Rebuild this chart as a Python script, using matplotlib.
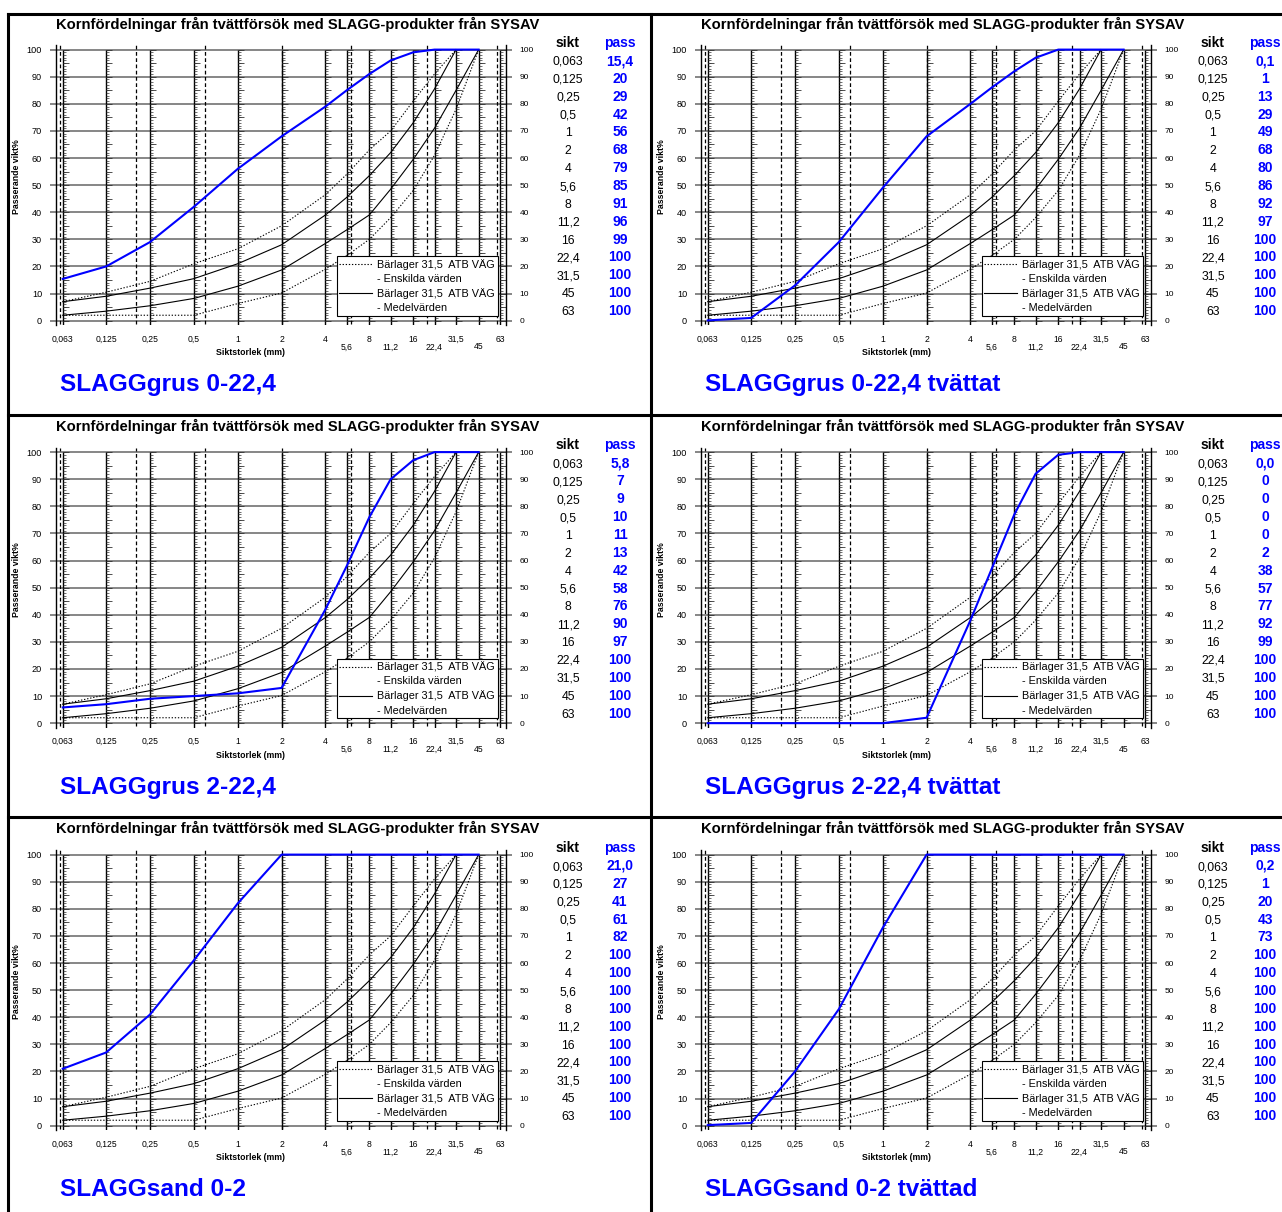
import matplotlib
matplotlib.use('Agg')
import matplotlib.pyplot as plt
from matplotlib.lines import Line2D
from matplotlib.markers import TICKRIGHT
from matplotlib.ticker import NullLocator

plt.rcParams['font.family'] = ['Liberation Sans', 'DejaVu Sans']

# siktserie (mm)
sikt = [0.063, 0.125, 0.25, 0.5, 1, 2, 4, 5.6, 8, 11.2, 16, 22.4, 31.5, 45, 63]
sikt_text = ['0,063', '0,125', '0,25', '0,5', '1', '2', '4', '5,6', '8',
             '11,2', '16', '22,4', '31,5', '45', '63']
lagre_etiketter = ['5,6', '11,2', '22,4', '45']

# gränskurvor Bärlager 31,5 ATB VÄG
enskild_ovre = [7, 10.5, 14.5, 21, 26.5, 35, 46.5, 54, 63, 70, 81, 91, 100]
medel_ovre = [7, 9, 12, 15.5, 21, 28, 39, 45.5, 53.5, 62, 73, 85.5, 100]
medel_undre = [2, 3.5, 5.5, 8.2, 12.7, 18.7, 28.5, 33.5, 39, 48.5, 59.5, 71, 85, 100]
enskild_undre = [2, 2, 2, 2, 6.3, 10.2, 19, 24, 30, 38, 48, 61, 78, 100]

# streckade fraktionsgränser (mm)
fraktionsgranser = [0.06, 0.2, 0.6, 2, 6, 20, 60]

# prover
prov_namn = ['SLAGGgrus 0-22,4', 'SLAGGgrus 0-22,4 tvättat',
             'SLAGGgrus 2-22,4', 'SLAGGgrus 2-22,4 tvättat',
             'SLAGGsand 0-2', 'SLAGGsand 0-2 tvättad']
grus_0_22 = [15.4, 20, 29, 42, 56, 68, 79, 85, 91, 96, 99, 100, 100, 100, 100]
grus_0_22_tv = [0.1, 1, 13, 29, 49, 68, 80, 86, 92, 97, 100, 100, 100, 100, 100]
grus_2_22 = [5.8, 7, 9, 10, 11, 13, 42, 58, 76, 90, 97, 100, 100, 100, 100]
grus_2_22_tv = [0.0, 0, 0, 0, 0, 2, 38, 57, 77, 92, 99, 100, 100, 100, 100]
sand_0_2 = [21.0, 27, 41, 61, 82, 100, 100, 100, 100, 100, 100, 100, 100, 100, 100]
sand_0_2_tv = [0.2, 1, 20, 43, 73, 100, 100, 100, 100, 100, 100, 100, 100, 100, 100]
prov_pass = [grus_0_22, grus_0_22_tv, grus_2_22, grus_2_22_tv, sand_0_2, sand_0_2_tv]

TITEL = 'Kornfördelningar från tvättförsök med SLAGG-produkter från SYSAV'
BLA = '#0000ff'
W, H = 1282, 1212
DX, DY = 645, 402.5


def fx(px):
    return px / W


def fy(py):
    return 1 - py / H


def fmt(v, dec):
    return f'{v:.{dec}f}'.replace('.', ',')


def rita_diagram(fig, ox, oy, namn, passerande):
    ax = fig.add_axes([fx(ox + 56), fy(oy + 325), (505.7 - 56) / W, (325 - 45) / H])
    ax.set_xscale('log', base=2)
    ax.set_xlim(0.0566, 69)
    ax.set_ylim(-1.6, 101.7)
    ax.spines['top'].set_visible(False)
    ax.spines['bottom'].set_visible(False)
    for side in ('left', 'right'):
        ax.spines[side].set_linewidth(1.0)

    # horisontella rutnätslinjer och y-skalor på båda sidor
    ax.set_yticks(range(0, 101, 10))
    ax.yaxis.grid(True, color='#666666', lw=1.1, zorder=0)
    ax.tick_params(axis='y', left=True, right=True, labelleft=True, labelright=True,
                   length=4, width=1.1, color='#666666', pad=6, labelsize=6.6)
    for t in ax.yaxis.get_major_ticks():
        t.label2.set_fontsize(6)

    # x-axel med siktstorlekar
    ax.set_xticks(sikt)
    ax.set_xticklabels(sikt_text)
    ax.xaxis.set_minor_locator(NullLocator())
    ax.tick_params(axis='x', length=0, labelsize=6.2)
    for t, txt in zip(ax.xaxis.get_major_ticks(), sikt_text):
        t.set_pad(12.5 if txt in lagre_etiketter else 7)
    ax.set_axisbelow(True)

    # siktlinjer med millimeterskala
    ax.vlines(sikt, -1.6, 100, color='k', lw=1.0, zorder=1)
    for s in sikt:
        ax.plot([s] * 101, range(101), ls='none', marker=TICKRIGHT, ms=2.5,
                mew=0.5, color='#333333', zorder=1)
        ax.plot([s] * 21, range(0, 101, 5), ls='none', marker=TICKRIGHT, ms=4,
                mew=0.6, color='#333333', zorder=1)
    ax.vlines(fraktionsgranser, -1.2, 101.7, color='k', lw=0.9,
              linestyles=(0, (3, 2)), zorder=1)

    # gränskurvor
    prick = (0, (1.2, 1.6))
    ax.plot(sikt[:len(enskild_ovre)], enskild_ovre, color='k', lw=0.8, ls=prick, zorder=2)
    ax.plot(sikt[:len(enskild_undre)], enskild_undre, color='k', lw=0.8, ls=prick, zorder=2)
    ax.plot(sikt[:len(medel_ovre)], medel_ovre, color='k', lw=0.8, zorder=2)
    ax.plot(sikt[:len(medel_undre)], medel_undre, color='k', lw=0.8, zorder=2)

    # provets siktkurva
    ax.plot(sikt[:-1], passerande[:-1], color=BLA, lw=1.5, zorder=4)

    handles = [Line2D([], [], color='k', lw=0.8, ls=prick),
               Line2D([], [], color='none'),
               Line2D([], [], color='k', lw=0.8),
               Line2D([], [], color='none')]
    labels = ['Bärlager 31,5  ATB VÄG', '- Enskilda värden',
              'Bärlager 31,5  ATB VÄG', '- Medelvärden']
    leg = ax.legend(handles, labels, loc='lower right', bbox_to_anchor=(0.982, 0.033),
                    fontsize=7.8, fancybox=False, edgecolor='k', framealpha=1,
                    borderpad=0.25, labelspacing=0.38, handlelength=3.0,
                    handletextpad=0.5, borderaxespad=0)
    leg.get_frame().set_linewidth(0.8)

    # texter
    fig.text(fx(ox + 298), fy(oy + 28.5), TITEL, ha='center', va='baseline',
             fontsize=10.6, weight='bold')
    fig.text(fx(ox + 17), fy(oy + 177), 'Passerande vikt%', rotation=90,
             ha='center', va='center', fontsize=6.3, weight='bold')
    fig.text(fx(ox + 251), fy(oy + 352.5), 'Siktstorlek (mm)', ha='center',
             va='center', fontsize=6.3, weight='bold')
    fig.text(fx(ox + 60), fy(oy + 391.5), namn, ha='left', va='baseline',
             fontsize=17.6, weight='bold', color=BLA)

    # tabell sikt / pass
    fig.text(fx(ox + 568), fy(oy + 46.7), 'sikt', ha='center', va='baseline',
             fontsize=10, weight='bold')
    fig.text(fx(ox + 620), fy(oy + 46.7), 'pass', ha='center', va='baseline',
             fontsize=10, weight='bold', color=BLA)
    for i, (txt, v) in enumerate(zip(sikt_text, passerande)):
        yb = oy + 65 + i * 17.86
        fig.text(fx(ox + 568), fy(yb), txt, ha='center', va='baseline', fontsize=8.8)
        fig.text(fx(ox + 620), fy(yb), fmt(v, 1 if i == 0 else 0), ha='center',
                 va='baseline', fontsize=10, weight='bold', color=BLA)


def main():
    fig = plt.figure(figsize=(W / 100, H / 100), dpi=100)
    for k, (namn, passerande) in enumerate(zip(prov_namn, prov_pass)):
        rad, kol = divmod(k, 2)
        rita_diagram(fig, kol * DX, rad * DY, namn, passerande)

    # ramlinjer mellan diagrammen
    ram = dict(transform=fig.transFigure, color='k', lw=2.2)
    fig.add_artist(Line2D([fx(8), fx(8)], [fy(14), fy(H)], **ram))
    fig.add_artist(Line2D([fx(651), fx(651)], [fy(14), fy(H)], **ram))
    for yy in (14, 415, 817):
        fig.add_artist(Line2D([fx(8), fx(W)], [fy(yy), fy(yy)], **ram))

    fig.savefig('out.png', dpi=100)


if __name__ == '__main__':
    main()
